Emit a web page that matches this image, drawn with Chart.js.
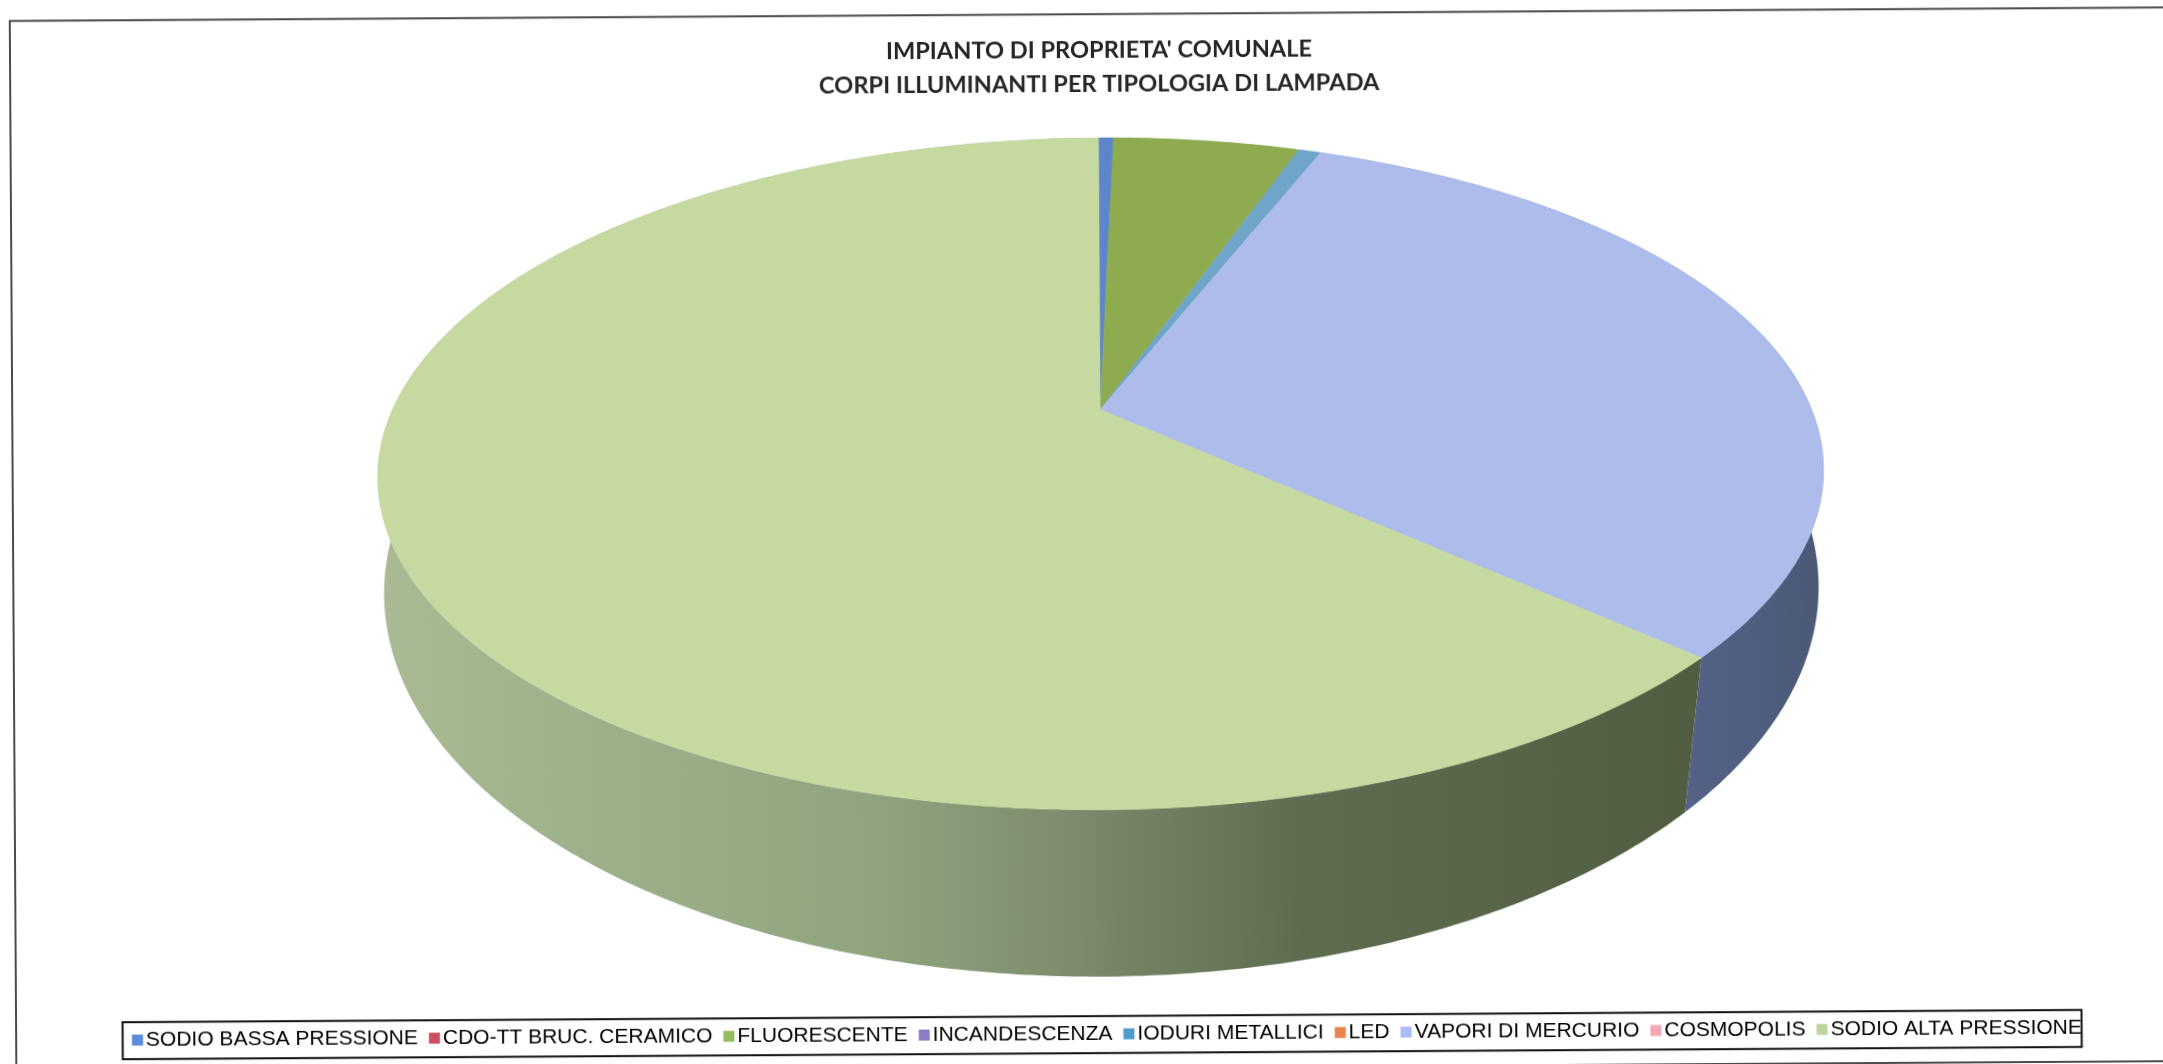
<!DOCTYPE html>
<html>
<head>
<meta charset="utf-8">
<title>Corpi illuminanti per tipologia di lampada</title>
<script src="https://cdn.jsdelivr.net/npm/chart.js@4/dist/chart.umd.min.js"></script>
<style>
html,body{margin:0;padding:0;background:#fff;overflow:hidden;width:2163px;height:1064px}
#wrap{position:absolute;left:-20px;top:0;width:2203px;height:1100px;transform-origin:1101.5px 532px;transform:rotate(-0.36deg);filter:blur(0.45px)}
</style>
</head>
<body>
<div id="wrap"><canvas id="c" width="2203" height="1100"></canvas></div>
<script>
// ---- data ----
const categories = ["SODIO BASSA PRESSIONE","CDO-TT BRUC. CERAMICO","FLUORESCENTE","INCANDESCENZA","IODURI METALLICI","LED","VAPORI DI MERCURIO","COSMOPOLIS","SODIO ALTA PRESSIONE"];
const shares = [0.4,0,5.0,0,0.6,0,30.85,0,63.15];
const titleLines = ["IMPIANTO DI PROPRIETA' COMUNALE","CORPI ILLUMINANTI PER TIPOLOGIA DI LAMPADA"];
// ---- styles ----
const sliceColors = ["#5C85CC","#CC5060","#8FAB50","#8878BC","#6EA5C8","#E8844C","#ADBCEB","#F0A8B4","#C6D9A0"];
const legendColors = ["#5C8ADC","#CE5060","#96BC60","#8C7CC4","#4F9ACC","#E8844C","#AABCF0","#F0A8B4","#BCD6A0"];
const rimStops = {
  6:[[1690,"#55638A"],[1830,"#4C5A78"]],
  8:[[398,"#A9BA94"],[890,"#90A47F"],[1070,"#7F8E6E"],[1320,"#5E6C50"],[1720,"#515D41"]]
};
// ---- perspective geometry of the disc (canvas pixels) ----
const TOP = {cx:1121,cy:473.9,a:722.9,b:335.9,t:-0.191};
const BOT = {cx:1121,cy:590.4,a:717.3,b:386.3,t:-0.155};
function proj(e,ang){
  const X=Math.cos(ang),Y=Math.sin(ang),d=1+e.t*Y;
  return [e.cx+e.a*X*Math.sqrt(1-e.t*e.t)/d, e.cy+e.b*(Y+e.t)/d];
}
function arcPts(e,s,f){
  const n=Math.max(2,Math.ceil((f-s)/0.01)),p=[];
  for(let i=0;i<=n;i++)p.push(proj(e,s+(f-s)*i/n));
  return p;
}
// top faces: the library's arc elements draw with its own computed angles
Chart.ArcElement.prototype.draw=function(ctx){
  const s=this.startAngle,f=this.endAngle;
  if(f-s<1e-5)return;
  const pts=arcPts(TOP,s,f),apex=[TOP.cx,TOP.cy+TOP.b*TOP.t];
  ctx.save();
  ctx.fillStyle=this.options.backgroundColor;
  ctx.strokeStyle=this.options.backgroundColor;
  ctx.lineWidth=0.6;
  ctx.beginPath();ctx.moveTo(apex[0],apex[1]);
  pts.forEach(p=>ctx.lineTo(p[0],p[1]));
  ctx.closePath();ctx.fill();ctx.stroke();
  ctx.restore();
};
const pieSides={
  id:'pieSides',
  afterLayout(chart){
    const l=chart.legend,h=l.height,t=chart.titleBlock;
    l.left+=22.3;l.right+=22.3;
    l.top=1033.6-h/2;l.bottom=l.top+h;
    t.left+=20.5;t.right+=20.5;
  },
  beforeDatasetsDraw(chart){
    const ctx=chart.ctx,arcs=chart.getDatasetMeta(0).data;
    arcs.forEach((el,i)=>{
      const s=el.startAngle,f=el.endAngle;
      if(f-s<1e-5)return;
      const u=arcPts(TOP,s,f),v=arcPts(BOT,s,f).reverse();
      let fill=sliceColors[i];
      if(rimStops[i]){
        const st=rimStops[i],x0=st[0][0],x1=st[st.length-1][0];
        fill=ctx.createLinearGradient(x0,0,x1,0);
        st.forEach(q=>fill.addColorStop((q[0]-x0)/(x1-x0),q[1]));
      }
      ctx.save();ctx.fillStyle=fill;ctx.beginPath();
      u.concat(v).forEach((p,k)=>k?ctx.lineTo(p[0],p[1]):ctx.moveTo(p[0],p[1]));
      ctx.closePath();ctx.fill();ctx.restore();
    });
  },
  afterDraw(chart){
    const ctx=chart.ctx;
    ctx.save();
    ctx.strokeStyle="#4a4a4a";ctx.lineWidth=2;
    ctx.beginPath();ctx.moveTo(2203,14.3);ctx.lineTo(33,14.3);ctx.lineTo(33,1068);ctx.lineTo(2203,1068);ctx.stroke();
    ctx.strokeStyle="#111";ctx.lineWidth=2;
    ctx.strokeRect(139.5,1016.2,1959,37);
    // legend swatches sit tight against their labels, on the legend's own item boxes
    chart.legend.legendHitBoxes.forEach((h,i)=>{
      ctx.fillStyle=legendColors[i];
      ctx.fillRect(h.left,h.top+h.height/2-5.5,11,11);
    });
    ctx.restore();
  }
};
new Chart(document.getElementById('c'),{
  type:'pie',
  data:{labels:categories,datasets:[{data:shares,backgroundColor:sliceColors,borderWidth:0,clip:false}]},
  plugins:[pieSides],
  options:{
    responsive:false,animation:false,
    layout:{padding:0},
    plugins:{
      tooltip:{enabled:false},
      title:{display:true,text:titleLines,color:"#262626",
        font:{family:"Lato",weight:"bold",size:23.6,lineHeight:1.46},
        padding:{top:33,bottom:6}},
      legend:{position:'bottom',
        labels:{
          color:"#000",
          font:{family:"'Liberation Sans'",size:21},
          boxWidth:3.5,boxHeight:3.5,padding:11,
          generateLabels(){return categories.map((t,i)=>({text:t,fillStyle:"rgba(0,0,0,0)",strokeStyle:"rgba(0,0,0,0)",lineWidth:0,hidden:false,index:i,fontColor:"#000"}));}
        }}
    }
  }
});
</script>
</body>
</html>
